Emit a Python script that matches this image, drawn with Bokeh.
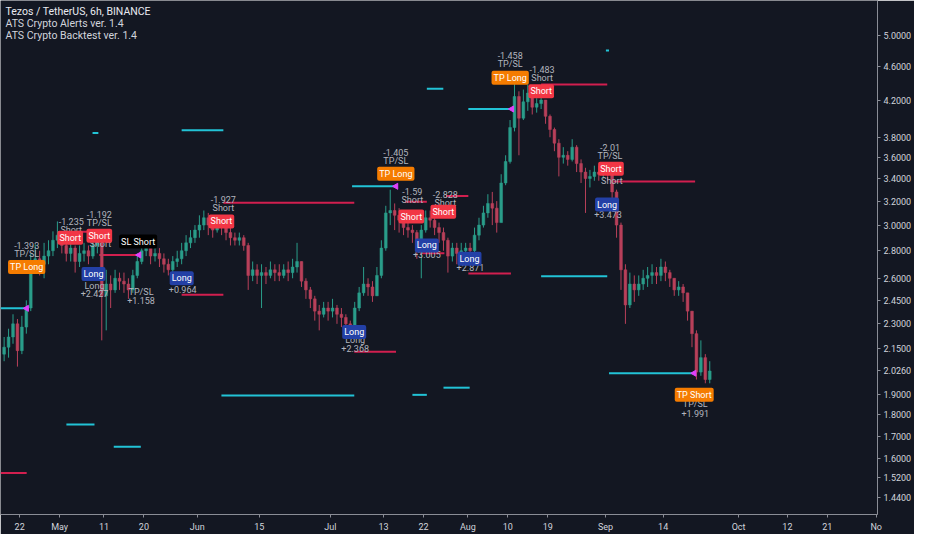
import pandas as pd
from bokeh.plotting import figure
from bokeh.models import FixedTicker, PrintfTickFormatter, Label, Range1d, ColumnDataSource
from bokeh.core.properties import value
from bokeh.embed import file_html
from bokeh.resources import INLINE

# ---------------- data ----------------
candle_start = "2020-04-18 12:00"
first_open = 2.12
closes = [2.16, 2.22, 2.30, 2.14, 2.28, 2.40, 2.72, 2.74, 2.70, 2.76, 2.80, 2.88, 2.92,
          2.84, 2.78, 2.82, 2.72, 2.78, 2.80, 2.76, 2.84, 2.86, 2.48, 2.56, 2.52, 2.60, 2.58, 2.56, 2.52,
          2.62, 2.72, 2.80, 2.84, 2.76, 2.78, 2.74, 2.70, 2.66, 2.72, 2.74, 2.80, 2.86, 2.90, 2.96,
          3.00, 3.06, 3.00, 2.96, 3.02, 2.98, 2.94, 2.90, 2.88, 2.90, 2.84, 2.62, 2.66, 2.62, 2.64,
          2.62, 2.66, 2.64, 2.62, 2.66, 2.64, 2.68, 2.72, 2.58, 2.52, 2.46, 2.38, 2.36, 2.40, 2.38,
          2.40, 2.36, 2.34, 2.30, 2.28, 2.40, 2.50, 2.56, 2.54, 2.48, 2.62, 2.82, 3.10, 3.12, 3.08,
          3.04, 2.98, 2.96, 2.94, 2.84, 2.96, 3.06, 3.04, 2.98, 2.94, 2.88, 2.76, 2.82, 2.78, 2.80, 2.82,
          2.80, 2.92, 3.00, 3.10, 3.18, 3.14, 3.02, 3.36, 3.56, 3.90, 4.24, 4.00, 4.18, 4.28, 4.12,
          4.16, 4.20, 4.02, 3.88, 3.74, 3.60, 3.62, 3.58, 3.70, 3.54, 3.46, 3.40, 3.42, 3.46, 3.44, 3.48,
          3.46, 3.28, 3.00, 2.66, 2.42, 2.56, 2.52, 2.56, 2.60, 2.62, 2.64, 2.62, 2.68, 2.64, 2.60,
          2.52, 2.54, 2.50, 2.38, 2.24, 2.02, 2.10, 1.98, 2.026]
highs = [2.22, 2.27, 2.36, 2.33, 2.35, 2.45, 2.78, 2.85, 2.80, 2.86, 2.88, 2.95, 3.03,
         2.95, 2.88, 2.90, 2.84, 2.84, 2.86, 2.84, 2.90, 2.92, 2.86, 2.66, 2.62, 2.66, 2.64, 2.64, 2.60,
         2.66, 2.78, 2.86, 2.88, 2.86, 2.84, 2.82, 2.78, 2.74, 2.76, 2.80, 2.86, 2.92, 2.96, 3.00,
         3.08, 3.12, 3.10, 3.06, 3.08, 3.06, 3.02, 2.98, 2.94, 2.94, 2.92, 2.86, 2.72, 2.70, 2.70,
         2.68, 2.72, 2.70, 2.70, 2.70, 2.72, 2.74, 2.86, 2.72, 2.60, 2.54, 2.48, 2.42, 2.44, 2.44,
         2.46, 2.42, 2.40, 2.36, 2.32, 2.44, 2.54, 2.68, 2.60, 2.58, 2.68, 2.88, 3.16, 3.30, 3.18,
         3.14, 3.08, 3.04, 3.00, 2.96, 3.00, 3.12, 3.12, 3.08, 3.02, 2.98, 2.90, 2.86, 2.86, 2.86, 2.86,
         2.86, 2.98, 3.06, 3.16, 3.26, 3.28, 3.20, 3.44, 3.62, 3.98, 4.44, 4.30, 4.32, 4.38, 4.28,
         4.22, 4.28, 4.20, 4.04, 3.90, 3.78, 3.70, 3.66, 3.78, 3.72, 3.58, 3.50, 3.48, 3.52, 3.52, 3.54,
         3.54, 3.48, 3.30, 3.02, 2.70, 2.64, 2.62, 2.62, 2.66, 2.68, 2.70, 2.68, 2.74, 2.72, 2.66,
         2.60, 2.58, 2.56, 2.50, 2.38, 2.26, 2.20, 2.12, 2.08]
lows = [2.08, 2.10, 2.18, 2.05, 2.12, 2.24, 2.38, 2.66, 2.62, 2.60, 2.70, 2.76, 2.82,
        2.78, 2.72, 2.72, 2.64, 2.68, 2.72, 2.70, 2.74, 2.78, 2.20, 2.26, 2.40, 2.50, 2.52, 2.50, 2.46,
        2.50, 2.60, 2.70, 2.76, 2.70, 2.72, 2.68, 2.64, 2.62, 2.64, 2.68, 2.70, 2.76, 2.82, 2.86,
        2.90, 2.96, 2.92, 2.90, 2.94, 2.92, 2.88, 2.84, 2.84, 2.84, 2.80, 2.52, 2.58, 2.56, 2.40,
        2.56, 2.60, 2.58, 2.58, 2.60, 2.58, 2.60, 2.64, 2.54, 2.46, 2.40, 2.32, 2.26, 2.34, 2.32,
        2.34, 2.30, 2.28, 2.26, 2.24, 2.26, 2.38, 2.48, 2.48, 2.44, 2.48, 2.60, 2.80, 3.00, 2.96,
        2.94, 2.92, 2.90, 2.86, 2.74, 2.60, 2.94, 2.98, 2.92, 2.86, 2.80, 2.64, 2.72, 2.70, 2.72, 2.74,
        2.72, 2.76, 2.88, 2.98, 3.06, 3.00, 2.94, 3.02, 3.34, 3.54, 3.86, 3.62, 3.98, 4.08, 4.04,
        4.06, 4.10, 3.94, 3.80, 3.66, 3.42, 3.54, 3.52, 3.56, 3.46, 3.36, 3.10, 3.32, 3.38, 3.38, 3.40,
        3.38, 3.20, 2.90, 2.52, 2.30, 2.40, 2.44, 2.48, 2.52, 2.54, 2.56, 2.56, 2.58, 2.58, 2.54,
        2.48, 2.48, 2.44, 2.32, 2.16, 1.98, 2.00, 1.96, 1.96]

# positions of annotations: days after 2020-05-01, prices
ref_date = "2020-05-01"
cyan_start = [-13.32, 7.42, 27.5, 65.9, 82.75, 92.1, 123.1, 108.5, 123.8, 36.46, 79.5, 86.5, 1.53, 12.2]
cyan_end = [-7.42, 8.73, 36.9, 75.8, 86.46, 102.0, 123.8, 123.4, 143.0, 66.4, 82.75, 92.4, 7.86, 18.3]
cyan_price = [2.398, 3.844, 3.873, 3.33, 4.33, 4.10, 4.80, 2.614, 2.014, 1.897, 1.90, 1.937, 1.754, 1.652]
red_start = [-13.32, 4.15, 8.95, 27.5, 36.9, 66.4, 77.9, 87.1, 81.2, 92.1, 108.5, 124.9]
red_end = [-7.42, 10.7, 17.9, 36.9, 66.4, 75.8, 82.75, 92.1, 86.7, 101.7, 123.4, 143.2]
red_price = [1.54, 2.946, 2.768, 2.487, 3.186, 2.133, 3.194, 3.244, 2.782, 2.634, 4.378, 3.374]

box_text = ["TP Long", "Short", "Short", "Long", "SL Short", "Long", "Short", "Long", "TP Long",
            "Short", "Short", "Long", "Long", "TP Long", "Short", "Short", "Long", "TP Short"]
box_kind = ["tp", "short", "short", "long", "sl", "long", "short", "long", "tp",
            "short", "short", "long", "long", "tp", "short", "short", "long", "tp"]
box_day = [-7.42, 2.40, 8.95, 7.64, 17.69, 27.51, 36.46, 66.38, 75.76,
           79.26, 86.46, 82.75, 92.36, 101.53, 108.52, 124.24, 123.36, 143.0]
box_price = [2.68, 2.90, 2.916, 2.63, 2.87, 2.60, 3.03, 2.25, 3.445,
             3.07, 3.11, 2.84, 2.74, 4.46, 4.30, 3.49, 3.17, 1.90]

note_text = ["-1.393", "TP/SL", "-1.235", "Short", "-1.192", "TP/SL", "Short", "Long", "+2.427",
             "TP/SL", "+1.158", "+0.964", "-1.927", "Short", "Long", "+2.368", "-1.405", "TP/SL",
             "-1.59", "Short", "-2.828", "Short", "+3.005", "+2.871", "-1.458", "TP/SL",
             "-1.483", "Short", "-2.01", "TP/SL", "Short", "+3.473", "TP/SL", "+1.991"]
note_day = [-7.42, -7.42, 2.62, 2.62, 8.95, 8.95, 9.17, 7.86, 7.86,
            18.34, 18.34, 27.73, 36.9, 36.9, 66.6, 66.6, 75.76, 75.76,
            79.48, 79.48, 86.9, 86.9, 82.75, 92.58, 101.53, 101.53,
            108.73, 108.73, 124.02, 124.02, 124.45, 123.58, 143.23, 143.23]
note_price = [2.84, 2.775, 3.03, 2.962, 3.088, 3.016, 2.848, 2.546, 2.494,
              2.507, 2.449, 2.52, 3.211, 3.137, 2.20, 2.15, 3.648, 3.564,
              3.287, 3.211, 3.261, 3.186, 2.775, 2.676, 4.733, 4.629,
              4.56, 4.454, 3.696, 3.61, 3.374, 3.088, 1.853, 1.805]

mark_day = [-7.42, 17.9, 75.8, 101.9, 143.0, 9.0]
mark_price = [2.398, 2.768, 3.33, 4.10, 2.014, 2.93]

last_price = 2.026
y_ticks = [1.44, 1.52, 1.6, 1.7, 1.8, 1.9, last_price, 2.15, 2.3, 2.45, 2.6, 2.8, 3.0, 3.2,
           3.4, 3.6, 3.8, 4.2, 4.6, 5.0]
x_tick_dates = ["2020-04-22", "2020-05-01", "2020-05-11", "2020-05-20", "2020-06-01", "2020-06-15",
                "2020-07-01", "2020-07-13", "2020-07-22", "2020-08-01", "2020-08-10", "2020-08-19",
                "2020-09-01", "2020-09-14", "2020-10-01", "2020-10-12", "2020-10-21", "2020-11-01"]
x_tick_labels = ["22", "May", "11", "20", "Jun", "15", "Jul", "13", "22", "Aug", "10", "19",
                 "Sep", "14", "Oct", "12", "21", "No"]

# ---------------- build ----------------
BG = "#131722"
UP, DOWN = "#2a9d8a", "#b8405a"
CYAN, RED = "#22c3d6", "#d21f4f"
base = pd.Timestamp(ref_date)
DAY_MS = 86400000


def to_dt(days):
    return [base + pd.Timedelta(days=float(d)) for d in days]


dates = pd.date_range(candle_start, periods=len(closes), freq="D")
opens = [first_open] + closes[:-1]
colors = [UP if c >= o else DOWN for o, c in zip(opens, closes)]
csrc = ColumnDataSource(dict(date=dates, open=opens, close=closes, high=highs, low=lows,
                             top=[max(o, c) for o, c in zip(opens, closes)],
                             bottom=[min(o, c) for o, c in zip(opens, closes)], color=colors))

x0 = base + pd.Timedelta(days=-13.32)
x1 = base + pd.Timedelta(days=184.3)

p = figure(width=914, height=534, x_axis_type="datetime", y_axis_type="log",
           x_range=Range1d(x0, x1), y_range=Range1d(1.377, 5.49),
           y_axis_location="right", output_backend="svg", toolbar_location=None,
           background_fill_color=BG, border_fill_color=BG,
           min_border_left=0, min_border_top=0, min_border_right=0, min_border_bottom=0)
p.outline_line_color = None
p.grid.visible = False

# horizontal signal lines
p.segment(x0=to_dt(cyan_start), x1=to_dt(cyan_end), y0=cyan_price, y1=cyan_price,
          line_color=CYAN, line_width=2)
p.segment(x0=to_dt(red_start), x1=to_dt(red_end), y0=red_price, y1=red_price,
          line_color=RED, line_width=2)

# candles
p.segment(x0="date", x1="date", y0="high", y1="low", line_color="color", line_width=1, source=csrc)
p.vbar(x="date", width=0.62 * DAY_MS, top="top", bottom="bottom", fill_color="color",
       line_color="color", line_width=0.5, source=csrc)

# markers at line ends
p.scatter(x=to_dt(mark_day), y=mark_price, marker="triangle", angle=1.5708, size=6,
          fill_color="#e040fb", line_color="#e040fb")

# note texts
nsrc = ColumnDataSource(dict(x=to_dt(note_day), y=note_price, text=note_text))
p.text(x="x", y="y", text="text", source=nsrc, text_color="#b2b5be", text_font=value("Roboto"),
       text_font_size="9px", text_align="center", text_baseline="middle")

# signal boxes
kind_bg = {"tp": "#f57c00", "short": "#f23645", "long": "#2340a6", "sl": "#000000"}
bsrc = ColumnDataSource(dict(x=to_dt(box_day), y=box_price, text=box_text,
                             bg=[kind_bg[k] for k in box_kind]))
p.text(x="x", y="y", text="text", source=bsrc, text_color="white", text_font=value("Roboto"),
       text_font_size="9px", text_align="center", text_baseline="middle",
       background_fill_color="bg", padding=2, border_radius=2)

# axes
p.yaxis.ticker = FixedTicker(ticks=y_ticks)
p.yaxis.formatter = PrintfTickFormatter(format="%.4f")
tick_ms = [float(pd.Timestamp(d).value // 10**6) for d in x_tick_dates]
p.xaxis.ticker = FixedTicker(ticks=tick_ms)
p.xaxis.major_label_overrides = {t: l for t, l in zip(tick_ms, x_tick_labels)}
for ax in (p.xaxis, p.yaxis):
    ax.axis_line_color = "#8a8d96"
    ax.major_tick_line_color = "#8a8d96"
    ax.major_tick_out = 3
    ax.major_tick_in = 0
    ax.minor_tick_line_color = None
    ax.major_label_text_color = "#d1d4dc"
    ax.major_label_text_font = "Roboto"
    ax.major_label_text_font_size = "9px"
p.yaxis.major_label_standoff = 3
p.xaxis.major_label_standoff = 4

# legend texts
for txt, yy, col in [("Tezos / TetherUS, 6h, BINANCE", 5.33, "#e8eaf0"),
                     ("ATS Crypto Alerts ver. 1.4", 5.16, "#d1d4dc"),
                     ("ATS Crypto Backtest ver. 1.4", 5.0, "#d1d4dc")]:
    p.add_layout(Label(x=5, y=yy, x_units="screen", text=txt, text_color=col,
                       text_font="Roboto", text_font_size="10.5px", text_baseline="middle"))

open("out.html", "w").write(file_html(p, INLINE))
